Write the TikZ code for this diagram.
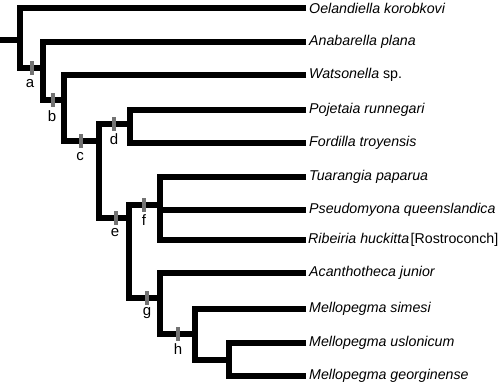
\documentclass[tikz,border=0pt]{standalone}
\usepackage{fontspec}
\setmainfont{Liberation Sans}
\begin{document}
\begin{tikzpicture}[x=1pt,y=-1pt,
  branch/.style={line width=6pt,line join=miter},
  taxon/.style={anchor=west,inner xsep=3pt,inner ysep=0pt,font=\fontsize{14.2}{16}\selectfont\itshape},
  synapo/.style={fill=black!55,draw=none,minimum width=4.5pt,minimum height=14pt,inner sep=0pt},
  cladelbl/.style={font=\fontsize{15}{17}\selectfont,inner sep=0pt}]
\useasboundingbox (0,0) rectangle (500,384);
% taxa
\node[taxon] (t1) at (306,8) {Oelandiella korobkovi};
\node[taxon] (t2) at (306,42) {Anabarella plana};
\node[taxon] (t3) at (306,75) {Watsonella \upshape sp.};
\node[taxon] (t4) at (306,110) {Pojetaia runnegari};
\node[taxon] (t5) at (306,143) {Fordilla troyensis};
\node[taxon] (t6) at (306,177) {Tuarangia paparua};
\node[taxon] (t7) at (306,210) {Pseudomyona queenslandica};
\node[taxon,inner xsep=2pt] (t8) at (306,240) {Ribeiria huckitta\hspace{1.5pt}\upshape[Rostroconch]};
\node[taxon] (t9) at (306,273) {Acanthotheca junior};
\node[taxon] (t10) at (306,309) {Mellopegma simesi};
\node[taxon] (t11) at (306,343) {Mellopegma uslonicum};
\node[taxon] (t12) at (306,376) {Mellopegma georginense};
% internal points
\coordinate (root) at (0,40);
\coordinate (j0) at (20,40);
\coordinate (a1) at (20,68);  \coordinate (a2) at (43,68);
\coordinate (b1) at (43,100); \coordinate (b2) at (64,100);
\coordinate (c1) at (64,141); \coordinate (c2) at (99,141);
\coordinate (d1) at (99,124); \coordinate (d2) at (130,124);
\coordinate (e1) at (99,218); \coordinate (e2) at (129,218);
\coordinate (f1) at (129,205); \coordinate (f2) at (160,205);
\coordinate (g1) at (129,298); \coordinate (g2) at (160,298);
\coordinate (h1) at (160,334); \coordinate (h2) at (195,334);
\coordinate (i1) at (195,360); \coordinate (i2) at (229,360);
% branches
\draw[branch] (root) -- (j0);
\draw[branch] (t1.west) -| (a1) -- (a2);
\draw[branch] (t2.west) -| (b1) -- (b2);
\draw[branch] (t3.west) -| (c1) -- (c2);
\draw[branch] (d2) -- (d1) -- (e1) -- (e2);
\draw[branch] (t4.west) -| (d2) |- (t5.west);
\draw[branch] (f2) -- (f1) -- (g1) -- (g2);
\draw[branch] (t6.west) -| (f2) |- (t8.west);
\draw[branch] (f2 |- t7.west) -- (t7.west);
\draw[branch] (t9.west) -| (h1) -- (h2);
\draw[branch] (t10.west) -| (i1) -- (i2);
\draw[branch] (t11.west) -| (i2) |- (t12.west);
% synapomorphy markers and labels
\node[synapo] (ma) at (32,68) {};
\node[synapo] (mb) at (53,100) {};
\node[synapo] (mc) at (81,141) {};
\node[synapo] (md) at (114,124) {};
\node[synapo] (me) at (116,218) {};
\node[synapo] (mf) at (144,205) {};
\node[synapo] (mg) at (147,298) {};
\node[synapo] (mh) at (178,334) {};
\node[cladelbl] (la) at (30,84) {a};
\node[cladelbl] (lb) at (52,116) {b};
\node[cladelbl] (lc) at (80,157) {c};
\node[cladelbl] (ld) at (114,139) {d};
\node[cladelbl] (le) at (115,233) {e};
\node[cladelbl] (lf) at (144,220) {f};
\node[cladelbl] (lg) at (147,313) {g};
\node[cladelbl] (lh) at (178,349) {h};
\end{tikzpicture}
\end{document}
